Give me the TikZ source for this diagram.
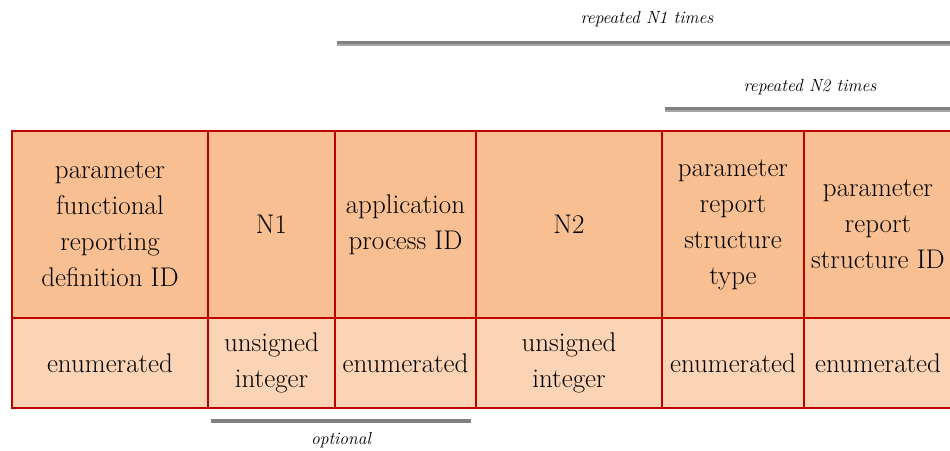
\documentclass[tikz,border=0pt]{standalone}
\definecolor{cellred}{HTML}{C00000}
\definecolor{headfill}{HTML}{F8C092}
\definecolor{typefill}{HTML}{FAD4B5}
\definecolor{bardark}{HTML}{808080}
\definecolor{barlight}{HTML}{A6A6A6}
\begin{document}
\begin{tikzpicture}[x=1pt,y=-1pt,
  cellbox/.style={draw=cellred, line width=2pt, align=center, inner sep=0pt,
    font=\fontsize{27}{36}\selectfont, text=black},
  headcell/.style={cellbox, fill=headfill, minimum height=187pt},
  typecell/.style={cellbox, fill=typefill, minimum height=90pt},
  note/.style={font=\fontsize{17.5}{20}\itshape\selectfont, text=black},
  bartop/.style={draw=bardark, line width=3pt},
  barbottom/.style={draw=barlight, line width=2pt}]
\useasboundingbox (0,0) rectangle (950,450);
% header row
\node[headcell, minimum width=196pt] (h1) at (110,224.5) {parameter\\functional\\reporting\\definition ID};
\node[headcell, minimum width=127pt] (h2) at (271.5,224.5) {N1};
\node[headcell, minimum width=141pt] (h3) at (405.5,224.5) {application\\process ID};
\node[headcell, minimum width=186pt] (h4) at (569,224.5) {N2};
\node[headcell, minimum width=142pt] (h5) at (733,224.5) {parameter\\report\\structure\\type};
\node[headcell, minimum width=148pt] (h6) at (878,224.5) {parameter\\report\\structure ID};
% type row
\node[typecell, minimum width=196pt] (t1) at (110,363) {enumerated};
\node[typecell, minimum width=127pt] (t2) at (271.5,363) {unsigned\\integer};
\node[typecell, minimum width=141pt] (t3) at (405.5,363) {enumerated};
\node[typecell, minimum width=186pt] (t4) at (569,363) {unsigned\\integer};
\node[typecell, minimum width=142pt] (t5) at (733,363) {enumerated};
\node[typecell, minimum width=148pt] (t6) at (878,363) {enumerated};
% repetition bars
\coordinate (n1a) at (337,42);
\coordinate (n1b) at (952,42);
\coordinate (n1c) at (337,45);
\coordinate (n1d) at (952,45);
\draw[bartop] (n1a) -- (n1b);
\draw[barbottom] (n1c) -- (n1d);
\node[note] (n1label) at (647,19) {repeated N1 times};
\coordinate (n2a) at (665,108);
\coordinate (n2b) at (952,108);
\coordinate (n2c) at (665,111);
\coordinate (n2d) at (952,111);
\draw[bartop] (n2a) -- (n2b);
\draw[barbottom] (n2c) -- (n2d);
\node[note] (n2label) at (810,87) {repeated N2 times};
% optional bar
\coordinate (opa) at (211,421);
\coordinate (opb) at (471,421);
\draw[draw=bardark, line width=3.5pt] (opa) -- (opb);
\node[note] (oplabel) at (341,440) {optional};
\end{tikzpicture}
\end{document}
